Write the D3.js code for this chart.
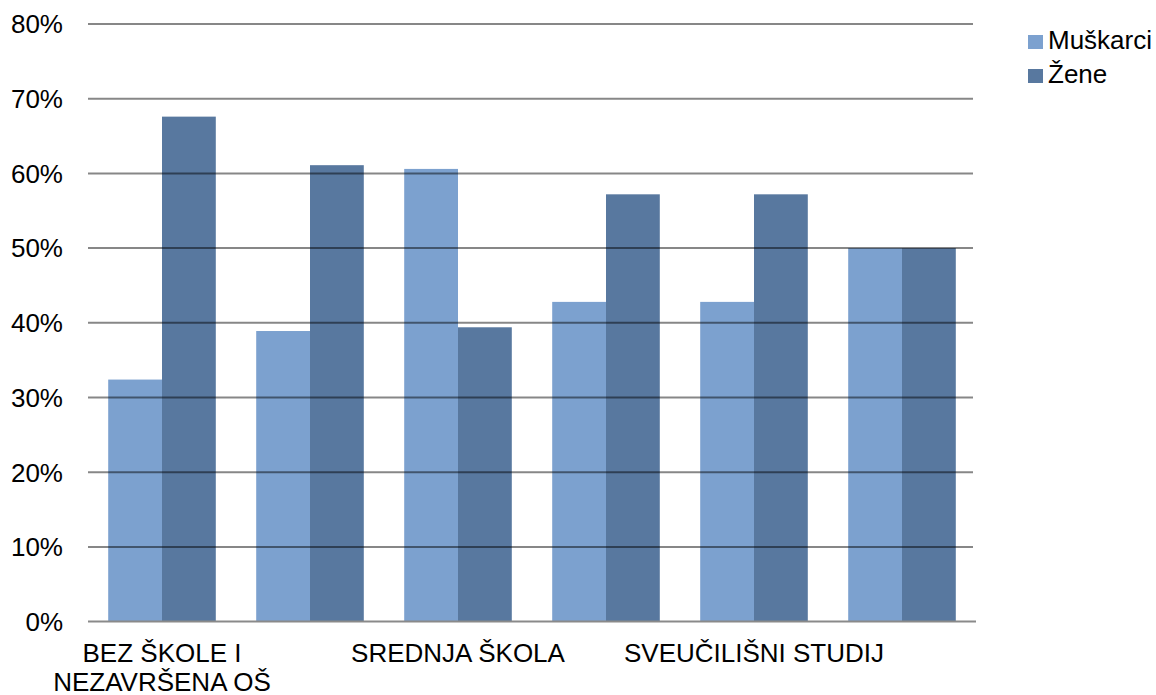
<!DOCTYPE html>
<html>
<head>
<meta charset="utf-8">
<script src="https://cdn.jsdelivr.net/npm/d3@7"></script>
<style>
  body { margin: 0; background: #fff; }
  text { font-family: "Liberation Sans", Arial, sans-serif; fill: #000; font-size: 26px; }
</style>
</head>
<body>
<svg width="1156" height="695"></svg>
<script>
//categories (only every other one gets a label in the chart)
var categories = ["BEZ ŠKOLE I NEZAVRŠENA OŠ", "OSNOVNA ŠKOLA", "SREDNJA ŠKOLA",
    "VIŠA ŠKOLA", "SVEUČILIŠNI STUDIJ", "POSLIJEDIPLOMSKI STUDIJ"];
var labelLines = {
    "BEZ ŠKOLE I NEZAVRŠENA OŠ": ["BEZ ŠKOLE I", "NEZAVRŠENA OŠ"],
    "SREDNJA ŠKOLA": ["SREDNJA ŠKOLA"],
    "SVEUČILIŠNI STUDIJ": ["SVEUČILIŠNI STUDIJ"]
};

//series (percent)
var seriesNames = ["Muškarci", "Žene"];
var muskarci = [32.4, 38.9, 60.6, 42.8, 42.8, 50.0];
var zene = [67.6, 61.1, 39.4, 57.2, 57.2, 50.0];

var yTicks = [0, 10, 20, 30, 40, 50, 60, 70, 80];

//colors
var colors = ["#7ca1cf", "#58789f"];

var svg = d3.select("svg");
var plot = { left: 88, right: 976, top: 24, bottom: 621.6 };

var scaleX = d3.scaleBand()
    .domain(categories)
    .range([plot.left, plot.right])
    .paddingInner(0.273)
    .paddingOuter(0.1365);
var scaleSeries = d3.scaleBand()
    .domain(seriesNames)
    .range([0, scaleX.bandwidth()]);
var scaleY = d3.scaleLinear()
    .domain([0, 80])
    .range([plot.bottom, plot.top]);

var rows = categories.map((c, i) => ({ cat: c, values: [muskarci[i], zene[i]] }));

//bars
var gBars = svg.append("g");
gBars.selectAll("g")
    .data(rows)
    .enter().append("g")
    .attr("transform", d => "translate(" + scaleX(d.cat) + ",0)")
    .selectAll("rect")
    .data(d => d.values.map((v, j) => ({ name: seriesNames[j], v: v, j: j })))
    .enter().append("rect")
    .attr("x", d => scaleSeries(d.name))
    .attr("width", scaleSeries.bandwidth())
    .attr("y", d => scaleY(d.v))
    .attr("height", d => scaleY(0) - scaleY(d.v))
    .attr("fill", d => colors[d.j]);

//gridlines drawn over the bars, semi-transparent
var gGrid = svg.append("g");
gGrid.selectAll("line")
    .data(yTicks.filter(t => t > 0))
    .enter().append("line")
    .attr("x1", plot.left)
    .attr("x2", plot.right - 3)
    .attr("y1", d => scaleY(d))
    .attr("y2", d => scaleY(d))
    .attr("stroke", "#000")
    .attr("stroke-opacity", 0.47)
    .attr("stroke-width", 2);

//x axis line
svg.append("line")
    .attr("x1", plot.left)
    .attr("x2", plot.right)
    .attr("y1", scaleY(0))
    .attr("y2", scaleY(0))
    .attr("stroke", "#8a8a8a")
    .attr("stroke-width", 2);

//y tick labels
svg.append("g").selectAll("text")
    .data(yTicks)
    .enter().append("text")
    .attr("x", 63)
    .attr("y", d => scaleY(d))
    .attr("dy", "0.36em")
    .attr("text-anchor", "end")
    .text(d => d + "%");

//category labels, every other one
categories.forEach(function (c) {
    if (!labelLines[c]) return;
    var x = scaleX(c) + scaleX.bandwidth() / 2;
    var t = svg.append("text")
        .attr("x", x)
        .attr("y", 661.5)
        .attr("text-anchor", "middle");
    labelLines[c].forEach(function (line, k) {
        t.append("tspan")
            .attr("x", x)
            .attr("dy", k === 0 ? 0 : 29)
            .text(line);
    });
});

//legend
var gLegend = svg.append("g");
seriesNames.forEach(function (name, i) {
    gLegend.append("rect")
        .attr("x", 1028)
        .attr("y", 35 + i * 34)
        .attr("width", 15)
        .attr("height", 14)
        .attr("fill", colors[i]);
    gLegend.append("text")
        .attr("x", 1048)
        .attr("y", 48.5 + i * 34)
        .text(name);
});
</script>
</body>
</html>
